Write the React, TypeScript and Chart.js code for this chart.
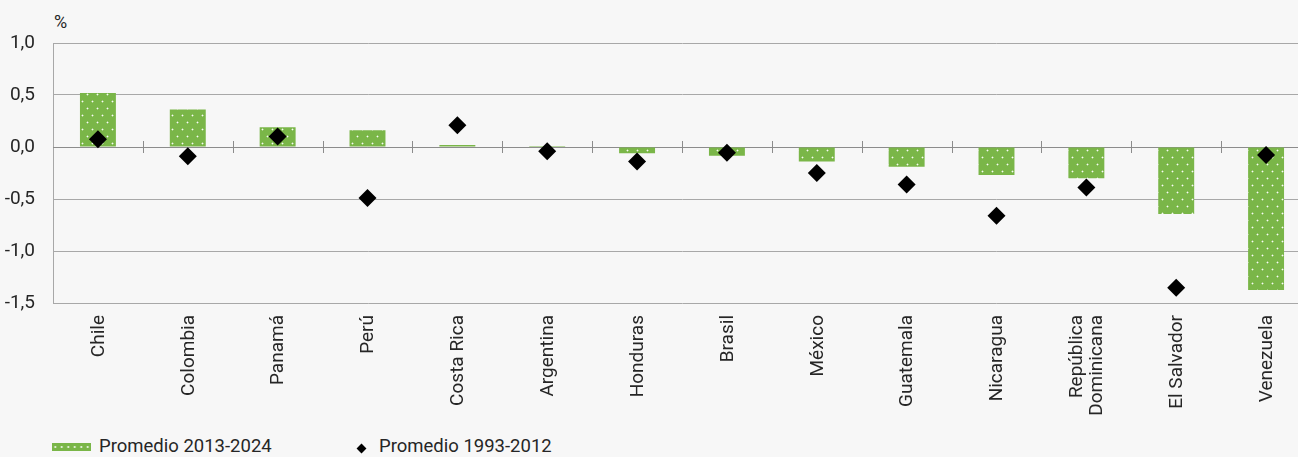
import React, { useEffect, useRef } from 'react';
import { Chart, registerables } from 'chart.js';

Chart.register(...registerables);

const categories: (string | string[])[] = [
  'Chile', 'Colombia', 'Panamá', 'Perú', 'Costa Rica', 'Argentina', 'Honduras',
  'Brasil', 'México', 'Guatemala', 'Nicaragua', ['República', 'Dominicana'], 'El Salvador', 'Venezuela',
];
const promedio2013_2024 = [0.52, 0.36, 0.19, 0.16, 0.02, 0.01, -0.06, -0.085, -0.14, -0.19, -0.27, -0.3, -0.645, -1.375];
const promedio1993_2012 = [0.075, -0.09, 0.1, -0.49, 0.21, -0.04, -0.14, -0.055, -0.25, -0.36, -0.66, -0.39, -1.353, -0.077];
const yMin = -1.5;
const yMax = 1.0;
const yStep = 0.5;
const seriesLabels = ['Promedio 2013-2024', 'Promedio 1993-2012'];

const GREEN = '#7ab648';
const GRID = '#a8a8a8';
const TEXT = '#262626';
const FONT = 'Roboto, "Noto Sans", sans-serif';
const CANVAS_W = 1320;
const CANVAS_H = 425;

function makePattern(): CanvasPattern | string {
  const c = document.createElement('canvas');
  c.width = 10;
  c.height = 14;
  const g = c.getContext('2d');
  if (!g) return GREEN;
  g.fillStyle = GREEN;
  g.fillRect(0, 0, 10, 14);
  const dot = (x: number, y: number) => {
    g.fillStyle = 'rgba(255,255,255,0.95)';
    g.fillRect(x, y, 1, 1);
    g.fillStyle = 'rgba(255,255,255,0.35)';
    g.fillRect(x - 1, y, 1, 1);
    g.fillRect(x + 1, y, 1, 1);
    g.fillRect(x, y - 1, 1, 1);
    g.fillRect(x, y + 1, 1, 1);
  };
  dot(2, 3);
  dot(7, 10);
  const p = g.createPattern(c, 'repeat');
  return p || GREEN;
}

const zeroTicksPlugin = {
  id: 'zeroTicks',
  beforeDatasetsDraw(chart: any) {
    const { ctx, scales } = chart;
    const x = scales.x;
    const y = scales.y;
    const y0 = y.getPixelForValue(0);
    ctx.save();
    ctx.strokeStyle = '#8c8c8c';
    ctx.lineWidth = 1;
    ctx.beginPath();
    ctx.moveTo(chart.chartArea.left, Math.round(y0) + 0.5);
    ctx.lineTo(chart.chartArea.right, Math.round(y0) + 0.5);
    ctx.stroke();
    const n = categories.length;
    for (let i = 1; i < n; i++) {
      const px = (x.getPixelForValue(i - 1) + x.getPixelForValue(i)) / 2;
      ctx.beginPath();
      ctx.moveTo(Math.round(px) + 0.5, y0 - 6);
      ctx.lineTo(Math.round(px) + 0.5, y0 + 6);
      ctx.stroke();
    }
    ctx.restore();
  },
};

// Vertical category labels, multi-line labels centred on their category
const xLabelsPlugin = {
  id: 'xLabels',
  afterDraw(chart: any) {
    const { ctx, scales, chartArea } = chart;
    const x = scales.x;
    const top = chartArea.bottom + 12;
    const lineH = 20;
    ctx.save();
    ctx.fillStyle = TEXT;
    ctx.font = `19px ${FONT}`;
    ctx.textAlign = 'right';
    ctx.textBaseline = 'middle';
    categories.forEach((lab, i) => {
      const lines = Array.isArray(lab) ? lab : [lab];
      const px = x.getPixelForValue(i);
      ctx.save();
      ctx.translate(px, top);
      ctx.rotate(-Math.PI / 2);
      lines.forEach((ln, j) => {
        const off = (j - (lines.length - 1) / 2) * lineH;
        ctx.fillText(ln, 0, off + 1);
      });
      ctx.restore();
    });
    ctx.restore();
  },
};

export default function App() {
  const ref = useRef<HTMLCanvasElement | null>(null);

  useEffect(() => {
    document.body.style.margin = '0';
    const canvas = ref.current;
    if (!canvas) return;
    const pattern = makePattern();
    const chart = new Chart(canvas, {
      type: 'bar',
      data: {
        labels: categories as any,
        datasets: [
          {
            type: 'line',
            label: seriesLabels[1],
            data: promedio1993_2012,
            showLine: false,
            pointStyle: 'rectRot',
            pointRadius: 9,
            pointHoverRadius: 9,
            pointBackgroundColor: '#000',
            pointBorderWidth: 0,
            borderColor: '#000',
            backgroundColor: '#000',
            order: 0,
          } as any,
          {
            type: 'bar',
            label: seriesLabels[0],
            data: promedio2013_2024,
            backgroundColor: pattern as any,
            borderWidth: 0,
            barPercentage: 0.4,
            categoryPercentage: 1,
            order: 1,
          } as any,
        ],
      },
      options: {
        animation: false,
        responsive: false,
        maintainAspectRatio: false,
        layout: { padding: { top: 43, right: 0, left: 0, bottom: 0 } },
        plugins: {
          legend: { display: false },
          tooltip: { enabled: false },
        },
        scales: {
          x: {
            offset: true,
            grid: { display: false, drawTicks: false },
            border: { display: false },
            ticks: { display: false, autoSkip: false },
            afterFit(scale: any) {
              scale.height = CANVAS_H - 303;
              scale.paddingLeft = 0;
              scale.paddingRight = 0;
            },
          },
          y: {
            min: yMin,
            max: yMax,
            ticks: {
              stepSize: yStep,
              padding: 18,
              color: TEXT,
              font: { family: FONT, size: 19 },
              callback: (v: any) => Number(v).toFixed(1).replace('.', ','),
            },
            grid: { color: GRID, drawTicks: false, lineWidth: 1 },
            border: { display: true, color: GRID },
            afterFit(scale: any) {
              scale.width = 53;
            },
          },
        },
      },
      plugins: [zeroTicksPlugin, xLabelsPlugin],
    });
    return () => chart.destroy();
  }, []);

  const legendText: React.CSSProperties = { position: 'absolute', top: 437, fontSize: 18.5, lineHeight: '19px', whiteSpace: 'nowrap' };

  return (
    <div style={{ position: 'relative', width: 1298, height: 457, background: '#f7f7f7', fontFamily: FONT, color: TEXT, overflow: 'hidden' }}>
      <div style={{ position: 'absolute', left: 54, top: 12, fontSize: 18, lineHeight: '20px' }}>%</div>
      <canvas ref={ref} width={CANVAS_W} height={CANVAS_H} style={{ position: 'absolute', left: 0, top: 0, width: CANVAS_W, height: CANVAS_H }} />
      <div style={{ position: 'absolute', left: 52, top: 443, width: 39, height: 8, backgroundColor: GREEN, backgroundImage: 'radial-gradient(circle, rgba(255,255,255,0.9) 0.8px, transparent 1.2px)', backgroundSize: '6.5px 8px' }} />
      <div style={{ ...legendText, left: 99 }}>{seriesLabels[0]}</div>
      <div style={{ position: 'absolute', left: 357.5, top: 444.5, width: 7, height: 7, background: '#000', transform: 'rotate(45deg)' }} />
      <div style={{ ...legendText, left: 379 }}>{seriesLabels[1]}</div>
    </div>
  );
}
